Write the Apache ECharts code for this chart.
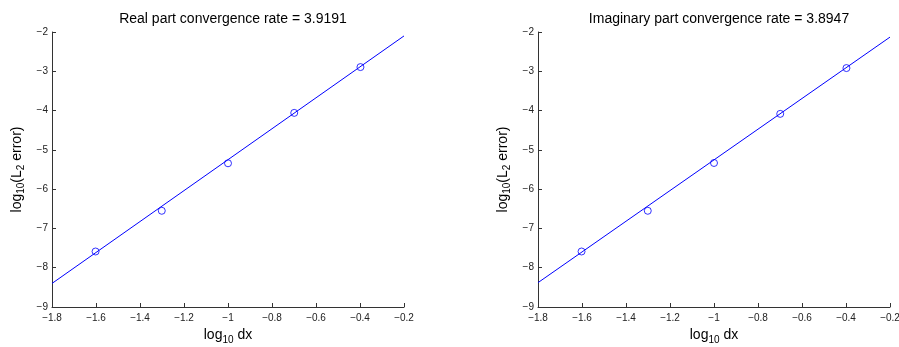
<!DOCTYPE html>
<html><head><meta charset="utf-8">
<script src="https://cdn.jsdelivr.net/npm/echarts@6/dist/echarts.min.js"></script>
<style>html,body{margin:0;padding:0;background:#fff}#c{width:899px;height:347px}</style>
</head><body><div id="c"></div>
<script>
// Data
const logDx = [-1.602, -1.301, -1.0, -0.699, -0.398];
const realErr = [-7.587, -6.551, -5.342, -4.059, -2.893];
const imagErr = [-7.587, -6.551, -5.334, -4.084, -2.918];
const fitX = [-1.8, -0.2];
const realFitY = [-8.40, -2.10];
const imagFitY = [-8.38, -2.13];
const titles = ['Real part convergence rate = 3.9191', 'Imaginary part convergence rate = 3.8947'];
const xTicks = [-1.8, -1.6, -1.4, -1.2, -1, -0.8, -0.6, -0.4, -0.2];
const yTicks = [-9, -8, -7, -6, -5, -4, -3, -2];

const FONT = '"Liberation Sans", Arial, Helvetica, sans-serif';
const grids = [
  {left: 52, top: 32, width: 352, height: 275, outerBoundsMode: 'none', containLabel: false},
  {left: 538, top: 32, width: 352, height: 275, outerBoundsMode: 'none', containLabel: false}
];
const fmt = v => String(Math.round(v * 10) / 10).replace('-', '\u2212');

function xAxis(i) {
  return {
    type: 'value', gridIndex: i, min: xTicks[0], max: xTicks[xTicks.length - 1], interval: 0.2,
    axisLine: {show: true, lineStyle: {color: '#333', width: 1}},
    axisTick: {show: true, inside: true, length: 4, lineStyle: {color: '#333'}},
    axisLabel: {formatter: fmt, fontFamily: FONT, fontSize: 10, color: '#222', margin: 6},
    splitLine: {show: false},
    name: '{n|log}{s|10}{n| dx}', nameLocation: 'middle', nameGap: 11,
    nameTextStyle: {rich: {
      n: {fontFamily: FONT, fontSize: 14, color: '#000'},
      s: {fontFamily: FONT, fontSize: 10, color: '#000', verticalAlign: 'bottom', padding: [10, 0, 0, 0]}
    }}
  };
}
function yAxis(i) {
  return {
    type: 'value', gridIndex: i, min: yTicks[0], max: yTicks[yTicks.length - 1], interval: 1,
    axisLine: {show: true, lineStyle: {color: '#333', width: 1}},
    axisTick: {show: true, inside: true, length: 4, lineStyle: {color: '#333'}},
    axisLabel: {formatter: fmt, fontFamily: FONT, fontSize: 10, color: '#222', margin: 4},
    splitLine: {show: false},
    name: '{n|log}{s|10}{n|(L}{s|2}{n| error)}', nameLocation: 'middle', nameGap: 26, nameRotate: 90,
    nameTextStyle: {rich: {
      n: {fontFamily: FONT, fontSize: 14, color: '#000'},
      s: {fontFamily: FONT, fontSize: 10, color: '#000', verticalAlign: 'bottom', padding: [8, 0, 0, 0]}
    }}
  };
}
function pts(xs, ys) { return xs.map((x, k) => [x, ys[k]]); }

const chart = echarts.init(document.getElementById('c'), null, {renderer: 'canvas'});
chart.setOption({
  animation: false,
  backgroundColor: '#fff',
  title: titles.map((t, i) => ({
    text: t, left: grids[i].left + grids[i].width / 2, top: 7, textAlign: 'center',
    textStyle: {fontFamily: FONT, fontSize: 14, fontWeight: 'normal', color: '#000'}
  })),
  grid: grids,
  xAxis: [xAxis(0), xAxis(1)],
  yAxis: [yAxis(0), yAxis(1)],
  series: [
    {type: 'line', xAxisIndex: 0, yAxisIndex: 0, data: pts(fitX, realFitY), showSymbol: false,
     lineStyle: {color: '#0000ff', width: 1}, silent: true},
    {type: 'scatter', xAxisIndex: 0, yAxisIndex: 0, data: pts(logDx, realErr), symbol: 'circle', symbolSize: 7,
     itemStyle: {color: 'transparent', borderColor: '#0000ff', borderWidth: 1}},
    {type: 'line', xAxisIndex: 1, yAxisIndex: 1, data: pts(fitX, imagFitY), showSymbol: false,
     lineStyle: {color: '#0000ff', width: 1}, silent: true},
    {type: 'scatter', xAxisIndex: 1, yAxisIndex: 1, data: pts(logDx, imagErr), symbol: 'circle', symbolSize: 7,
     itemStyle: {color: 'transparent', borderColor: '#0000ff', borderWidth: 1}}
  ]
});
</script></body></html>
